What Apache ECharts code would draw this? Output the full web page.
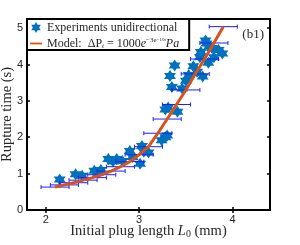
<!DOCTYPE html>
<html><head><meta charset="utf-8">
<script src="https://cdn.jsdelivr.net/npm/echarts@6/dist/echarts.min.js"></script>
<style>html,body{margin:0;padding:0;background:#fff}#c{width:300px;height:245px}</style>
</head><body><div id="c"></div>
<script>
// Experimental points: [initial plug length (mm), rupture time (s)]
var expX = [2.15,2.32,2.39,2.52,2.59,2.56,2.67,2.72,2.76,2.82,2.90,2.93,3.01,3.03,3.05,3.10,3.24,3.28,3.30,3.28,3.31,3.41,3.33,3.38,3.35,3.46,3.50,3.53,3.58,3.62,3.65,3.68,3.66,3.72,3.74,3.71,3.78,3.85,3.89,3.80,3.75];
var expY = [0.84,0.98,0.94,1.08,1.10,1.03,1.40,1.33,1.40,1.35,1.62,1.46,1.27,1.76,1.60,1.58,1.92,2.00,2.05,2.76,2.82,2.70,3.68,3.97,3.38,3.34,3.55,3.71,3.95,3.80,4.20,3.67,4.34,4.58,4.05,4.66,4.45,4.40,4.30,4.20,4.50];
// Model curve points and horizontal error (mm)
var modelX = [2.1,2.2,2.3,2.4,2.5,2.6,2.7,2.8,2.9,3.0,3.1,3.2,3.3,3.4,3.5,3.6,3.7,3.8,3.9];
var modelY = [0.63,0.69,0.75,0.82,0.89,0.97,1.07,1.19,1.33,1.52,1.74,2.11,2.50,2.90,3.30,3.74,4.15,4.59,5.04];
var xErr   = [0.15,0.15,0.15,0.15,0.15,0.15,0.15,0.15,0.15,0.15,0.15,0.15,0.15,0.15,0.15,0.15,0.15,0.15,0.15];
var xTicks = [2,3,4];
var yTicks = [0,1,2,3,4,5];

var star = 'path://M0,-10L2.89,-5L8.66,-5L5.77,0L8.66,5L2.89,5L0,10L-2.89,5L-8.66,5L-5.77,0L-8.66,-5L-2.89,-5Z';
var serif = 'Liberation Serif';
var expData = expX.map(function(x,i){return [x,expY[i]];});
var modelData = modelX.map(function(x,i){return [x,modelY[i]];});
var errData = modelX.map(function(x,i){return [x,modelY[i],xErr[i]];});

var chart = echarts.init(document.getElementById('c'), null, {renderer:'canvas'});
var axisCommon = {
  axisLine:{show:true,lineStyle:{color:'#000',width:2}},
  splitLine:{show:false}
};
var tc = '#262626';
chart.setOption({
  animation:false,
  backgroundColor:'#fff',
  title:{text:'(b1)',right:31,top:23,textStyle:{fontFamily:serif,fontSize:13,fontWeight:'normal',color:tc}},
  grid:{left:27,right:30,top:19,bottom:35,show:true,borderColor:'#000',borderWidth:2,backgroundColor:'#fff',
    containLabel:false,outerBoundsMode:'none'},
  legend:{
    left:27,top:19,orient:'vertical',
    borderColor:'#000',borderWidth:2,backgroundColor:'#fff',borderRadius:0,
    padding:[2,10,0,3],itemGap:3,itemWidth:12,itemHeight:11,
    data:[{name:'Experiments unidirectional',icon:star},{name:'Model',icon:'path://M0,0L20,0L20,3L0,3Z'}],
    textStyle:{fontFamily:serif,fontSize:12,lineHeight:13,color:tc,
      rich:{
        n:{fontFamily:serif,fontSize:12,lineHeight:13,color:tc},
        it:{fontFamily:serif,fontSize:12,lineHeight:13,fontStyle:'italic',color:tc},
        sub:{fontFamily:serif,fontSize:7,lineHeight:7,fontStyle:'italic',color:tc,verticalAlign:'bottom'},
        sup:{fontFamily:serif,fontSize:7,lineHeight:10,color:tc,verticalAlign:'top'},
        sup2:{fontFamily:serif,fontSize:5,lineHeight:5,color:tc,verticalAlign:'top'}
      }},
    formatter:function(name){
      if(name==='Model') return '{n|Model:  ΔP}{sub|t}{n| = 1000}{it|e}{sup|−3e}{sup2|−10t}{it|Pa}';
      return name;
    }
  },
  xAxis:[
    Object.assign({type:'value',min:1.8,max:4.4,position:'bottom',
      name:'Initial plug length {it|L}{sub|0} (mm)',nameLocation:'middle',nameGap:14,nameMoveOverlap:false,
      nameTextStyle:{fontFamily:serif,fontSize:14.5,color:tc,
        rich:{it:{fontFamily:serif,fontSize:14.5,fontStyle:'italic',color:tc},sub:{fontFamily:serif,fontSize:10,color:tc,padding:[5,0,0,0]}}},
      axisTick:{show:true,inside:true,length:3,customValues:xTicks,lineStyle:{color:'#000',width:1.5}},
      axisLabel:{show:true,customValues:xTicks,margin:4,fontFamily:'Liberation Sans',fontSize:11,color:tc}
    },axisCommon),
    Object.assign({type:'value',min:1.8,max:4.4,position:'top',
      axisTick:{show:true,inside:true,length:3,customValues:xTicks,lineStyle:{color:'#000',width:1.5}},
      axisLabel:{show:false}
    },axisCommon)
  ],
  yAxis:[
    Object.assign({type:'value',min:0,max:5.25,interval:1,position:'left',
      name:'Rupture time (s)',nameLocation:'middle',nameGap:12,nameMoveOverlap:false,
      nameTextStyle:{fontFamily:serif,fontSize:14.5,color:tc},
      axisTick:{show:true,inside:true,length:3,customValues:yTicks,lineStyle:{color:'#000',width:1.5}},
      axisLabel:{show:true,customValues:yTicks,margin:4,fontFamily:'Liberation Sans',fontSize:11,color:tc}
    },axisCommon),
    Object.assign({type:'value',min:0,max:5.25,interval:1,position:'right',
      axisTick:{show:true,inside:true,length:3,customValues:yTicks,lineStyle:{color:'#000',width:1.5}},
      axisLabel:{show:false}
    },axisCommon)
  ],
  series:[
    {name:'Experiments unidirectional',type:'scatter',data:expData,symbol:star,symbolSize:12,
      itemStyle:{color:'#0072BD',opacity:1},z:2},
    {name:'errors',type:'custom',data:errData,z:3,
      renderItem:function(params,api){
        var y=api.value(1), x=api.value(0), e=api.value(2);
        var p0=api.coord([x-e,y]), p1=api.coord([x+e,y]);
        var st={stroke:'#1f1fff',lineWidth:1};
        return {type:'group',children:[
          {type:'line',shape:{x1:p0[0],y1:p0[1],x2:p1[0],y2:p1[1]},style:st},
          {type:'line',shape:{x1:p0[0],y1:p0[1]-2,x2:p0[0],y2:p0[1]+2},style:st},
          {type:'line',shape:{x1:p1[0],y1:p1[1]-2,x2:p1[0],y2:p1[1]+2},style:st}
        ]};
      }},
    {name:'Model',type:'line',data:modelData,symbol:'none',z:4,
      lineStyle:{color:'#D95319',width:3},itemStyle:{color:'#D95319'}}
  ]
});
</script></body></html>
